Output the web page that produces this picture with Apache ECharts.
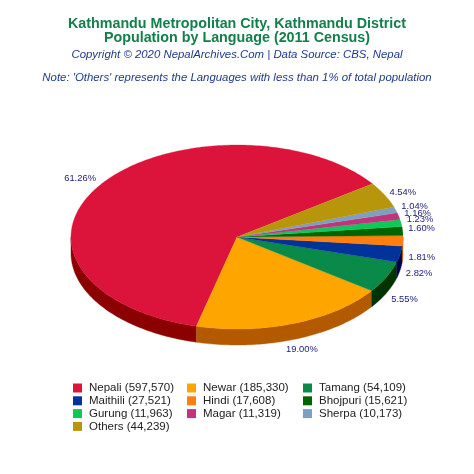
<!DOCTYPE html>
<html><head><meta charset="utf-8">
<style>html,body{margin:0;padding:0;background:#fff}#c{width:474px;height:474px}</style>
<script src="https://cdn.jsdelivr.net/npm/echarts@6/dist/echarts.min.js"></script>
</head><body><div id="c"></div>
<script>
var languages = ['Nepali','Newar','Tamang','Maithili','Hindi','Bhojpuri','Gurung','Magar','Sherpa','Others'];
var speakers = [597570,185330,54109,27521,17608,15621,11963,11319,10173,44239];
var topColors = ['#DC143C','#FFA500','#0A8A48','#003399','#FF7F0E','#006400','#0CC95A','#C5327C','#7D9FC2','#B8960C'];
var wallColors = ['#8B0000','#B35900','#003300','#00004D','#B35900','#003300','#008033','#80204F','#50708F','#806600'];
var legendColumns = [[0,3,6,9],[1,4,7],[2,5,8]];
var legendLeft = [73,187,303];
var labelNudge = [[-20,-7],[8,25.5],[18,22],[19,19],[19,17],[19,-3],[19,-3],[19,-3],[19,-4],[18,-3]];

var CX=237, CY=237, RX=166, RY=92, DEPTH=16, START=35.3;
var total = speakers.reduce(function(a,b){return a+b;},0);
function fmt(n){return String(n).replace(/\B(?=(\d{3})+$)/g,',');}
function pt(deg,dy){var r=deg*Math.PI/180;return [CX+RX*Math.cos(r),CY-RY*Math.sin(r)+(dy||0)];}
var seriesList = languages.map(function(lang,i){
  var before = speakers.slice(0,i).reduce(function(a,b){return a+b;},0);
  return {
    type:'custom', coordinateSystem:'none', name:lang+' ('+fmt(speakers[i])+')',
    itemStyle:{color:topColors[i]}, silent:true, animation:false,
    data:[[speakers[i],before]],
    renderItem:function(params,api){
      var a0=START+api.value(1)/total*360, a1=a0+api.value(0)/total*360, kids=[];
      // outer wall: only the part of the rim that faces the viewer
      [[180,360],[540,720]].forEach(function(f){
        var s=Math.max(a0,f[0]), e=Math.min(a1,f[1]);
        if(e<=s) return;
        var up=[],down=[];
        for(var t=s;;t=Math.min(t+1,e)){up.push(pt(t,0));down.unshift(pt(t,DEPTH));if(t>=e)break;}
        kids.push({type:'polygon',shape:{points:up.concat(down)},style:{fill:wallColors[i],stroke:wallColors[i],lineWidth:0.4}});
      });
      var pts=[[CX,CY]];
      for(var t=a0;;t=Math.min(t+1,a1)){pts.push(pt(t,0));if(t>=a1)break;}
      kids.push({type:'polygon',shape:{points:pts},style:{fill:topColors[i],stroke:topColors[i],lineWidth:0.3}});
      var m=pt((a0+a1)/2,0);
      kids.push({type:'text',z2:10,style:{x:m[0]+labelNudge[i][0],y:m[1]+labelNudge[i][1],
        text:(api.value(0)/total*100).toFixed(2)+'%',align:'center',verticalAlign:'middle',
        fill:'#1A1A80',font:'9.4px "Liberation Sans", Arial, sans-serif'}});
      return {type:'group',children:kids};
    }
  };
});
function title(text,y,size,weight,style,color){
  return {text:text,left:'center',top:y,padding:0,
    textStyle:{fontFamily:'"Liberation Sans", Arial, sans-serif',fontSize:size,fontWeight:weight,fontStyle:style,color:color,lineHeight:size+1}};
}
var chart = echarts.init(document.getElementById('c'),null,{renderer:'canvas'});
chart.setOption({
  backgroundColor:'#fff', animation:false,
  title:[
    title('Kathmandu Metropolitan City, Kathmandu District',16,14.3,'bold','normal','#12804A'),
    title('Population by Language (2011 Census)',30,14.3,'bold','normal','#12804A'),
    title('Copyright © 2020 NepalArchives.Com | Data Source: CBS, Nepal',48.5,11.4,'normal','italic','#1F3A8A'),
    title("Note: 'Others' represents the Languages with less than 1% of total population",72,11.4,'normal','italic','#1F3A8A')
  ],
  legend: legendColumns.map(function(col,k){
    return {orient:'vertical',left:legendLeft[k],top:382,padding:0,itemGap:0.8,itemWidth:9,itemHeight:9,
      icon:'rect',selectedMode:false,
      textStyle:{fontFamily:'"Liberation Sans", Arial, sans-serif',fontSize:11.5,lineHeight:12,color:'#222',padding:[0,0,0,2]},
      data:col.map(function(j){return seriesList[j].name;})};
  }),
  series: seriesList
});
</script></body></html>
